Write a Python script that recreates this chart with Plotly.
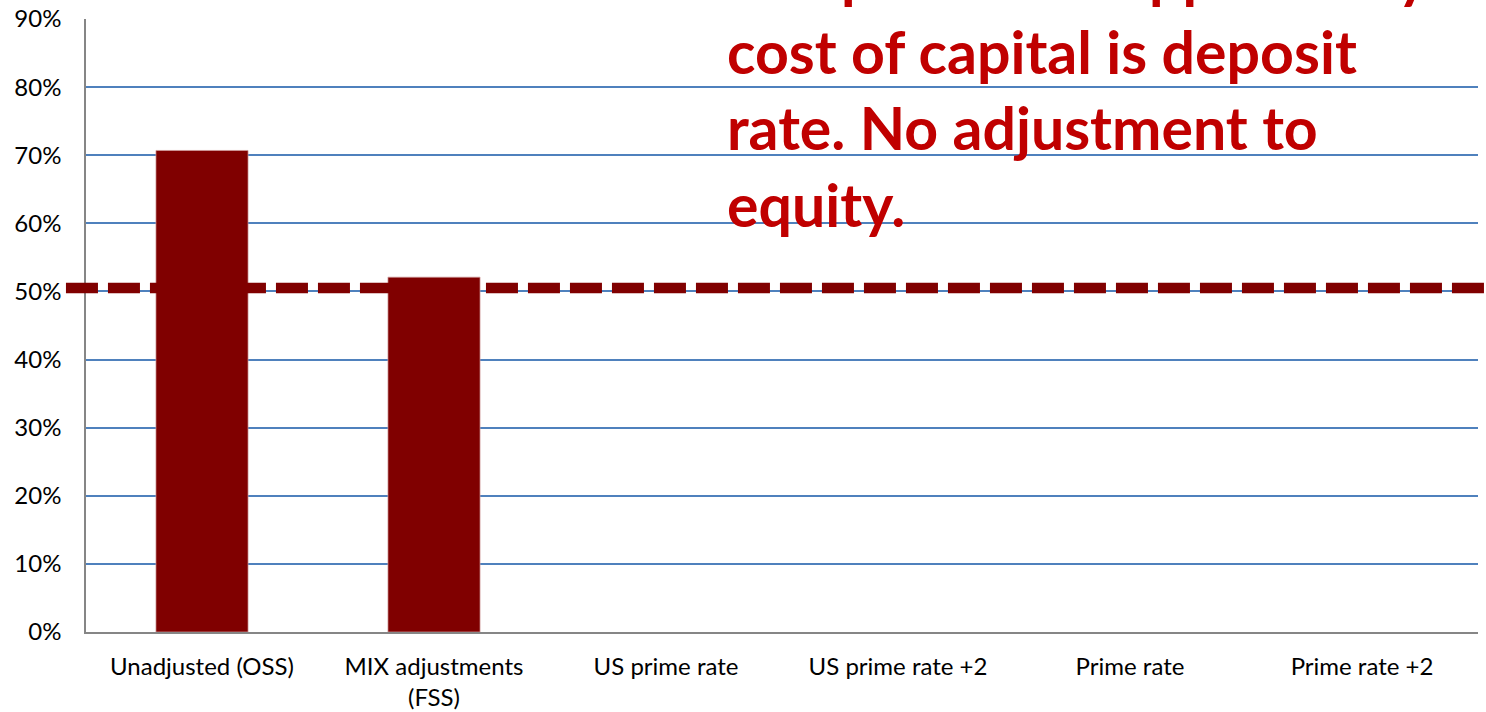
import plotly.graph_objects as go

# Sustainability ratios under different cost-of-capital assumptions
categories = [
    "Unadjusted (OSS)",
    "MIX adjustments<br>(FSS)",
    "US prime rate",
    "US prime rate +2",
    "Prime rate",
    "Prime rate +2",
]
ratios = [0.707, 0.521, None, None, None, None]

# Reference threshold drawn as a dashed line
threshold = 0.505

y_ticks = [0.0, 0.1, 0.2, 0.3, 0.4, 0.5, 0.6, 0.7, 0.8, 0.9]

note_lines = [
    "The presumed opportunity",
    "cost of capital is deposit",
    "rate. No adjustment to",
    "equity.",
]

BAR_RED = "#800000"
NOTE_RED = "#C00000"
GRID_BLUE = "#4F81BD"
AXIS_GREY = "#868686"
FONT = "Lato"

fig = go.Figure()
fig.add_trace(
    go.Bar(
        x=categories,
        y=ratios,
        marker=dict(color=BAR_RED, line=dict(color="rgba(210,160,160,0.7)", width=1)),
        hoverinfo="x+y",
    )
)

fig.add_shape(
    type="line",
    xref="paper",
    yref="y",
    x0=-0.0144,
    x1=1.02,
    y0=threshold,
    y1=threshold,
    line=dict(color=BAR_RED, width=10.5, dash="32px,10px"),
    layer="above",
)

fig.add_annotation(
    xref="paper",
    yref="paper",
    x=0.4590,
    y=0.6355,
    xanchor="left",
    yanchor="bottom",
    align="left",
    showarrow=False,
    text="<br>".join(note_lines),
    font=dict(family=FONT, size=59, color=NOTE_RED, weight="bold"),
)

fig.update_layout(
    width=1486,
    height=712,
    margin=dict(l=86, r=8, t=19, b=80, autoexpand=False),
    paper_bgcolor="white",
    plot_bgcolor="white",
    bargap=0.603,
    showlegend=False,
    font=dict(family=FONT, size=24, color="#000000"),
)

fig.update_xaxes(
    type="category",
    automargin=False,
    showgrid=False,
    showline=True,
    linecolor=AXIS_GREY,
    linewidth=1.5,
    ticks="",
    tickfont=dict(family=FONT, size=24, color="#000000"),
    ticklabelstandoff=12,
)

fig.update_yaxes(
    range=[0, 0.9],
    automargin=False,
    tickvals=y_ticks,
    tickformat=".0%",
    showgrid=True,
    gridcolor=GRID_BLUE,
    gridwidth=1.6,
    zeroline=False,
    showline=True,
    linecolor=AXIS_GREY,
    linewidth=1.5,
    ticks="",
    tickfont=dict(family=FONT, size=24, color="#000000"),
    ticklabelstandoff=18,
)

fig.write_html("out.html")
